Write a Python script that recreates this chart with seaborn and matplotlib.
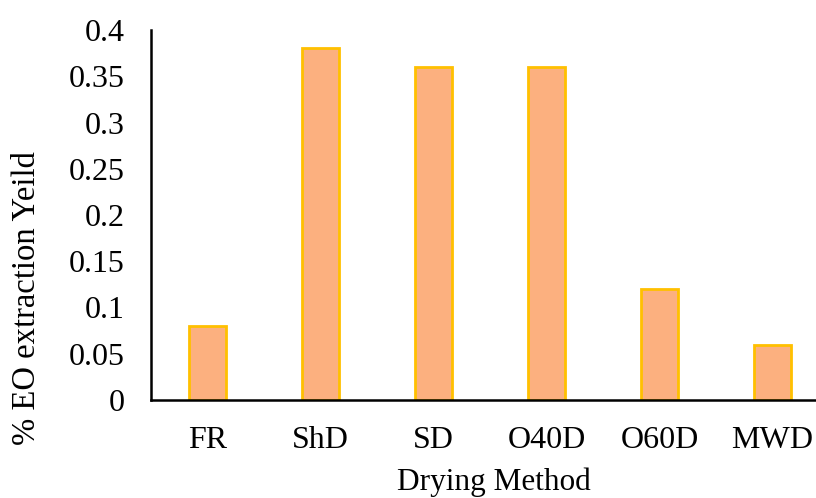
"""Bar chart of EO extraction yield by drying method."""

import matplotlib
matplotlib.use("Agg")
import matplotlib.pyplot as plt
import pandas as pd
import seaborn as sns

# Data
methods = ["FR", "ShD", "SD", "O40D", "O60D", "MWD"]
yields = [0.08, 0.38, 0.36, 0.36, 0.12, 0.06]
y_ticks = [0, 0.05, 0.1, 0.15, 0.2, 0.25, 0.3, 0.35, 0.4]
y_tick_labels = ["0", "0.05", "0.1", "0.15", "0.2", "0.25", "0.3", "0.35", "0.4"]

df = pd.DataFrame({"method": methods, "yield": yields})

sns.set_theme(style="white")
plt.rcParams["font.family"] = ["Liberation Serif", "DejaVu Serif"]
plt.rcParams["text.color"] = "black"

fig = plt.figure(figsize=(8.16, 4.98), dpi=100)
W, H = 816, 498
# axes box in pixels: left 151, bottom spine y=400, top y=30, right 829 (clipped)
ax = fig.add_axes([151 / W, (H - 400) / H, 678 / W, 370 / H])

sns.barplot(data=df, x="method", y="yield", ax=ax, color="#FCB07F",
            width=0.33, edgecolor="#FFC000", linewidth=2, saturation=1)

ax.set_ylim(0, 0.4)
ax.set_xlim(-0.5, 5.5)
ax.set_yticks(y_ticks)
ax.set_yticklabels(y_tick_labels)
ax.tick_params(axis="both", length=0, labelsize=23, colors="black")
ax.tick_params(axis="y", pad=19)
ax.tick_params(axis="x", pad=19)

for side in ["top", "right"]:
    ax.spines[side].set_visible(False)
for side in ["left", "bottom"]:
    ax.spines[side].set_color("black")
    ax.spines[side].set_linewidth(1.8)

ax.set_xlabel("")
ax.set_ylabel("")
fig.text(27 / W, (H - 298) / H, "% EO extraction Yeild", rotation=90,
         ha="center", va="center", fontsize=23.5, color="black")
fig.text(494 / W, (H - 490) / H, "Drying Method", ha="center",
         va="baseline", fontsize=22.5, color="black")

plt.savefig("out.png", dpi=100)
plt.close()
